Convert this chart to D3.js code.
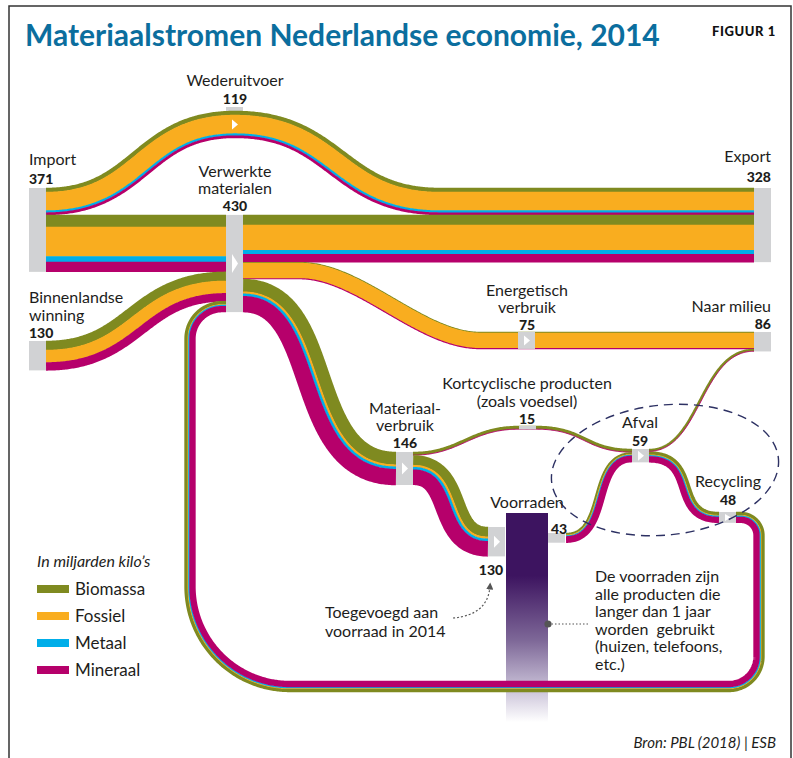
<!DOCTYPE html>
<html>
<head>
<meta charset="utf-8">
<script src="https://cdn.jsdelivr.net/npm/d3@7"></script>
<style>
  body { margin: 0; background: #fff; }
  svg { display: block; font-family: Lato, "Open Sans", sans-serif; }
</style>
</head>
<body>
<svg id="chart" width="793" height="758"></svg>
<script>
// materiaalsoorten (volgorde van boven naar onder in elke stroom)
const materials = ['Biomassa', 'Fossiel', 'Metaal', 'Mineraal'];

// knopen met hun totaal (miljarden kilo's)
const nodeNames = ['Import', 'Binnenlandse winning', 'Verwerkte materialen', 'Wederuitvoer', 'Export',
  'Energetisch verbruik', 'Naar milieu', 'Materiaalverbruik', 'Kortcyclische producten',
  'Voorraden', 'Afval', 'Recycling'];
const nodeTotals = [371, 130, 430, 119, 328, 75, 86, 146, 15, 130, 59, 48];

// stromen, per materiaal
const flowNames = ['Import > Wederuitvoer > Export', 'Import > Verwerkt', 'Binnenlands > Verwerkt',
  'Recycling > Verwerkt', 'Verwerkt > Export', 'Verwerkt > Energetisch > Milieu',
  'Verwerkt > Materiaalverbruik', 'Materiaalverbruik > Kortcyclisch > Afval',
  'Materiaalverbruik > Voorraden', 'Voorraden > Afval', 'Afval > Recycling', 'Afval > Milieu'];
const flowBiomassa = [18, 53, 40, 14, 45, 4, 56, 13, 43, 8, 14, 9];
const flowFossiel  = [82, 131, 55, 3, 111, 68, 9, 0, 9, 3, 3, 0];
const flowMetaal   = [9, 24, 0, 5, 18, 0, 11, 0, 11, 4, 5, 0];
const flowMineraal = [10, 44, 35, 26, 35, 3, 70, 2, 67, 28, 26, 2];

const flowValue = flowNames.map((_, i) => flowBiomassa[i] + flowFossiel[i] + flowMetaal[i] + flowMineraal[i]);

const svg = d3.select('#chart');
const color = d3.scaleOrdinal().domain(materials).range(['#7f8a20', '#f9ad1f', '#00aee9', '#b6006b']);
const k = d3.scaleLinear().domain([0, 430]).range([0, 97.2]); // dikte van een stroom
const W = i => k(flowValue[i]);
const NW = 17; // breedte knoop
const grey = '#d1d2d4';
const ink = '#1d1d1b';

// positie van de knopen (linksboven)
const N = {
  imp: { x: 29, y: 188 },
  bin: { x: 29, y: 341 },
  ver: { x: 226, y: 188 + k(119) },
  wed: { x: 226, y: 111 },
  exp: { x: 754, y: 188 },
  ene: { x: 518, y: 332 },
  mil: { x: 754, y: 332 },
  mat: { x: 396, y: 452 },
  kor: { x: 519, y: 426 },
  voorIn: { x: 488, y: 527 },
  voorOut: { x: 548, y: 533 },
  afv: { x: 632, y: 449 },
  rec: { x: 719, y: 512 }
};

// kader
svg.append('path')
  .attr('d', 'M9,758 L9,6 L791,6 L791,758')
  .attr('fill', 'none').attr('stroke', '#333').attr('stroke-width', 1.5);

// titel
svg.append('text').attr('x', 25).attr('y', 46)
  .attr('font-size', 30).attr('font-weight', 700).attr('fill', '#0b6e9e')
  .text('Materiaalstromen Nederlandse economie, 2014');
svg.append('text').attr('x', 776).attr('y', 36).attr('text-anchor', 'end')
  .attr('font-size', 13).attr('font-weight', 900).attr('fill', '#111').attr('letter-spacing', 0.6)
  .text('FIGUUR 1');

// voorraden balk met verloop
const grad = svg.append('defs').append('linearGradient')
  .attr('id', 'voorraad').attr('x1', 0).attr('y1', 0).attr('x2', 0).attr('y2', 1);
[[0, '#3d1460'], [0.3, '#3d1460'], [0.61, '#7e6898'], [0.86, '#cfc8dc'], [1, '#ffffff']]
  .forEach(s => grad.append('stop').attr('offset', s[0]).attr('stop-color', s[1]));
svg.append('rect').attr('x', 506).attr('y', 513).attr('width', 42).attr('height', 209)
  .attr('fill', 'url(#voorraad)');

// wederuitvoer lipje
svg.append('rect').attr('x', N.wed.x).attr('y', N.wed.y - 4).attr('width', NW).attr('height', 10).attr('fill', grey);

// middenlijnen van de stromen
const cyc = (node, before, i) => node.y + k(before) + W(i) / 2;
const paths = [];
{
  const a = cyc(N.imp, 0, 0), p = cyc(N.wed, 0, 0);
  paths[0] = `M46,${a} C141,${a} 141,${p} 235,${p} C337,${p} 337,${a} 440,${a} L${N.exp.x},${a}`;
}
{
  const y = cyc(N.imp, 119, 1);
  paths[1] = `M46,${y} L${N.ver.x},${y}`;
}
{
  const a = cyc(N.bin, 0, 2), b = cyc(N.ver, 252, 2);
  paths[2] = `M46,${a} C136,${a} 136,${b} ${N.ver.x},${b}`;
}
{
  const a = cyc(N.rec, 0, 3), b = cyc(N.ver, 382, 3);
  const p = d3.path();
  p.moveTo(N.rec.x + NW, a);
  p.arcTo(759, a, 759, 686.5, 18);
  p.arcTo(759, 686.5, 190, 686.5, 30);
  p.arcTo(190, 686.5, 190, b, 100);
  p.arcTo(190, b, N.ver.x, b, 32);
  p.lineTo(N.ver.x, b);
  paths[3] = p.toString();
}
{
  const y = cyc(N.ver, 0, 4);
  paths[4] = `M243,${y} L${N.exp.x},${y}`;
}
{
  const a = cyc(N.ver, 209, 5), b = cyc(N.mil, 0, 5);
  paths[5] = `M243,${a} L300,${a} C360,${a} 420,${b} 480,${b} L${N.mil.x},${b}`;
}
{
  const a = cyc(N.ver, 284, 6), b = cyc(N.mat, 0, 6);
  paths[6] = `M243,${a} C330,${a} 296,${b} ${N.mat.x},${b}`;
}
{
  const a = cyc(N.mat, 0, 7), b = cyc(N.kor, 0, 7), c = cyc(N.afv, 0, 7);
  paths[7] = `M413,${a} C460,${a} 470,${b} ${N.kor.x},${b} L536,${b} C585,${b} 585,${c} ${N.afv.x},${c}`;
}
{
  const a = cyc(N.mat, 15, 8), b = cyc(N.voorIn, 0, 8);
  paths[8] = `M413,${a} C460,${a} 440,${b} ${N.voorIn.x},${b}`;
}
{
  const a = cyc(N.voorOut, 0, 9), b = cyc(N.afv, 15, 9);
  paths[9] = `M566,${a} C610,${a} 590,${b} ${N.afv.x},${b}`;
}
{
  const a = cyc(N.afv, 11, 10), b = cyc(N.rec, 0, 10);
  paths[10] = `M649,${a} C700,${a} 670,${b} ${N.rec.x},${b}`;
}
{
  const a = cyc(N.afv, 0, 11), b = cyc(N.mil, 75, 11);
  paths[11] = `M649,${a} C700,${a} 700,${b} ${N.mil.x},${b}`;
}

// een stroom tekenen als gestapelde lagen langs de normaal van de middenlijn
const flowG = svg.append('g');
function drawFlow(i) {
  const tmp = svg.append('path').attr('d', paths[i]).attr('fill', 'none');
  const el = tmp.node();
  const len = el.getTotalLength();
  const n = Math.ceil(len / 1.2);
  const pts = d3.range(n + 1).map(j => el.getPointAtLength(len * j / n));
  tmp.remove();
  const normals = pts.map((p, j) => {
    const a = pts[Math.max(0, j - 1)], b = pts[Math.min(n, j + 1)];
    const dx = b.x - a.x, dy = b.y - a.y, l = Math.hypot(dx, dy) || 1;
    return [dy / l, -dx / l];
  });
  const vals = [flowBiomassa[i], flowFossiel[i], flowMetaal[i], flowMineraal[i]];
  const total = W(i);
  let acc = 0;
  vals.forEach((v, m) => {
    if (!v) return;
    const w = k(v);
    const off = total / 2 - acc - w / 2;
    acc += w;
    const line = pts.map((p, j) => [p.x + normals[j][0] * off, p.y + normals[j][1] * off]);
    flowG.append('path')
      .attr('d', d3.line()(line))
      .attr('fill', 'none')
      .attr('stroke', color(materials[m]))
      .attr('stroke-width', w + 0.5);
  });
}
paths.forEach((_, i) => drawFlow(i));

// knopen
const nodeRects = [
  [N.imp, 371], [N.bin, 130], [N.ver, 430], [N.exp, 328], [N.mil, 86],
  [N.ene, 75], [N.mat, 146], [N.kor, 15], [N.voorIn, 130], [N.voorOut, 43],
  [N.afv, 59], [N.rec, 48]
];
svg.append('g').selectAll('rect').data(nodeRects).join('rect')
  .attr('x', d => d[0].x).attr('y', d => d[0].y)
  .attr('width', NW).attr('height', d => k(d[1]))
  .attr('fill', grey);

// witte pijltjes
const arrows = [
  [N.ver, 430, 19], [N.wed, 119, 10], [N.ene, 75, 10], [N.mat, 146, 12],
  [N.voorIn, 130, 12], [N.afv, 59, 10], [N.rec, 48, 7]
];
svg.append('g').selectAll('path').data(arrows).join('path')
  .attr('d', d => {
    const x = d[0].x + 6, cy = d[0].y + k(d[1]) / 2, h = d[2];
    return `M${x},${cy - h / 2} L${x + 6},${cy} L${x},${cy + h / 2} Z`;
  })
  .attr('fill', '#fff');

// gestippelde ellips rond afval en recycling
svg.append('ellipse').attr('cx', 665).attr('cy', 470).attr('rx', 114).attr('ry', 65)
  .attr('transform', 'rotate(-6 665 470)')
  .attr('fill', 'none').attr('stroke', '#2d3163').attr('stroke-width', 1.4)
  .attr('stroke-dasharray', '9 6');

// labels
const labelG = svg.append('g').attr('fill', ink);
function label(x, ys, lines, anchor, value, vy) {
  lines.forEach((t, j) => {
    labelG.append('text').attr('x', x).attr('y', ys[j]).attr('text-anchor', anchor)
      .attr('font-size', 16).text(t);
  });
  if (value != null) {
    labelG.append('text').attr('x', x).attr('y', vy).attr('text-anchor', anchor)
      .attr('font-size', 14).attr('font-weight', 900).text(value);
  }
}
label(235, [86], ['Wederuitvoer'], 'middle', nodeTotals[3], 104);
label(29, [165], ['Import'], 'start', nodeTotals[0], 184);
label(235, [177, 194], ['Verwerkte', 'materialen'], 'middle', nodeTotals[2], 211);
label(29, [303, 321], ['Binnenlandse', 'winning'], 'start', nodeTotals[1], 338);
label(771, [162], ['Export'], 'end', nodeTotals[4], 182);
label(771, [312], ['Naar milieu'], 'end', nodeTotals[6], 329);
label(527, [296, 313], ['Energetisch', 'verbruik'], 'middle', nodeTotals[5], 330);
label(405, [414, 431], ['Materiaal-', 'verbruik'], 'middle', nodeTotals[7], 448);
label(527, [389, 407], ['Kortcyclische producten', '(zoals voedsel)'], 'middle', nodeTotals[8], 424);
label(640, [428], ['Afval'], 'middle', nodeTotals[10], 446);
label(728, [487], ['Recycling'], 'middle', nodeTotals[11], 505);
label(527, [508], ['Voorraden'], 'middle', null, 0);
label(551, [], [], 'start', 43, 534);
label(491, [], [], 'middle', nodeTotals[9], 575);

// toelichting voorraden
label(325, [618, 637], ['Toegevoegd aan', 'voorraad in 2014'], 'start', null, 0);
label(595, [582, 600, 617, 635, 652, 670],
  ['De voorraden zijn', 'alle producten die', 'langer dan 1 jaar', 'worden  gebruikt', '(huizen, telefoons,', 'etc.)'],
  'start', null, 0);
labelG.selectAll('text').style('white-space', 'pre');

svg.append('defs').append('marker').attr('id', 'pijl')
  .attr('viewBox', '0 0 10 10').attr('refX', 5).attr('refY', 5)
  .attr('markerWidth', 6).attr('markerHeight', 6).attr('orient', 'auto')
  .append('path').attr('d', 'M0,0 L10,5 L0,10 Z').attr('fill', '#555');
svg.append('path').attr('d', 'M453,618 Q488,615 490,586')
  .attr('fill', 'none').attr('stroke', '#555').attr('stroke-width', 1.2)
  .attr('stroke-dasharray', '2 2').attr('marker-end', 'url(#pijl)');
svg.append('line').attr('x1', 548).attr('y1', 624).attr('x2', 588).attr('y2', 624)
  .attr('stroke', '#555').attr('stroke-width', 1.2).attr('stroke-dasharray', '1.5 2');
svg.append('circle').attr('cx', 548).attr('cy', 624).attr('r', 3.6).attr('fill', '#555');

// legenda
const legend = svg.append('g').attr('transform', 'translate(37,0)');
legend.append('text').attr('x', 0).attr('y', 567).attr('font-size', 16).attr('font-style', 'italic')
  .attr('fill', ink).text('In miljarden kilo\u2019s');
const li = legend.selectAll('g.item').data(materials).join('g').attr('class', 'item')
  .attr('transform', (d, i) => `translate(0,${585 + i * 27})`);
li.append('rect').attr('width', 32).attr('height', 8).attr('fill', d => color(d));
li.append('text').attr('x', 38).attr('y', 10).attr('font-size', 17).attr('fill', ink).text(d => d);

// bron
svg.append('text').attr('x', 776).attr('y', 748).attr('text-anchor', 'end')
  .attr('font-size', 15).attr('font-style', 'italic').attr('fill', ink)
  .text('Bron: PBL (2018) | ESB');
</script>
</body>
</html>
